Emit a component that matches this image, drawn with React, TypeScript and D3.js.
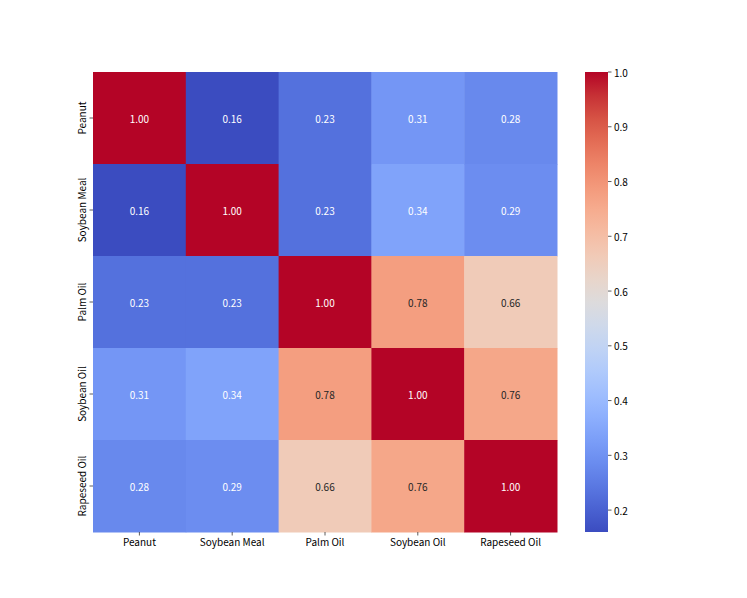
import React, { useEffect, useRef } from "react";
import * as d3 from "d3";

const LABELS = ["Peanut", "Soybean Meal", "Palm Oil", "Soybean Oil", "Rapeseed Oil"];
const MATRIX = [
  [1.0, 0.16, 0.23, 0.31, 0.28],
  [0.16, 1.0, 0.23, 0.34, 0.29],
  [0.23, 0.23, 1.0, 0.78, 0.66],
  [0.31, 0.34, 0.78, 1.0, 0.76],
  [0.28, 0.29, 0.66, 0.76, 1.0],
];
const CBAR_TICKS = [0.2, 0.3, 0.4, 0.5, 0.6, 0.7, 0.8, 0.9, 1.0];

// matplotlib coolwarm, sampled every 1/16
const COOLWARM = [
  "rgb(59,76,192)", "rgb(77,104,215)", "rgb(98,130,234)", "rgb(119,154,247)",
  "rgb(141,176,254)", "rgb(163,194,255)", "rgb(184,208,249)", "rgb(204,217,238)",
  "rgb(221,221,221)", "rgb(236,211,197)", "rgb(245,196,173)", "rgb(247,177,148)",
  "rgb(244,154,123)", "rgb(236,127,99)", "rgb(222,96,76)", "rgb(203,62,56)",
  "rgb(180,4,38)",
];

const W = 747;
const H = 598;
const LEFT = 93;
const RIGHT = 557;
const TOP = 72;
const BOTTOM = 532;
const CB_X = 585;
const CB_W = 23;
const FONT = "'Noto Sans CJK SC', 'DejaVu Sans', sans-serif";

function luminance(c: string) {
  const rgb = d3.rgb(c);
  const f = (v: number) => {
    v = v / 255;
    return v <= 0.03928 ? v / 12.92 : Math.pow((v + 0.055) / 1.055, 2.4);
  };
  return 0.2126 * f(rgb.r) + 0.7152 * f(rgb.g) + 0.0722 * f(rgb.b);
}

export default function App() {
  const ref = useRef<SVGSVGElement>(null);

  useEffect(() => {
    const svg = d3.select(ref.current);
    svg.selectAll("*").remove();

    const vmin = d3.min(MATRIX.flat()) as number;
    const vmax = d3.max(MATRIX.flat()) as number;
    const interp = d3.interpolateRgbBasis(COOLWARM);
    const color = (v: number) => interp((v - vmin) / (vmax - vmin));

    const x = d3.scaleBand<string>().domain(LABELS).range([LEFT, RIGHT]);
    const y = d3.scaleBand<string>().domain(LABELS).range([TOP, BOTTOM]);

    const cells = MATRIX.flatMap((row, i) =>
      row.map((v, j) => ({ r: LABELS[i], c: LABELS[j], v }))
    );

    const g = svg.append("g");
    g.selectAll("rect")
      .data(cells)
      .join("rect")
      .attr("x", (d) => x(d.c)!)
      .attr("y", (d) => y(d.r)!)
      .attr("width", x.bandwidth() + 0.5)
      .attr("height", y.bandwidth() + 0.5)
      .attr("fill", (d) => color(d.v));

    g.selectAll("text")
      .data(cells)
      .join("text")
      .attr("x", (d) => x(d.c)! + x.bandwidth() / 2)
      .attr("y", (d) => y(d.r)! + y.bandwidth() / 2)
      .attr("text-anchor", "middle")
      .attr("dominant-baseline", "central")
      .attr("font-family", FONT)
      .attr("font-size", 10)
      .attr("fill", (d) => (luminance(color(d.v)) > 0.408 ? "#262626" : "#ffffff"))
      .text((d) => d.v.toFixed(2));

    // x axis
    const xa = svg.append("g");
    LABELS.forEach((l) => {
      const cx = x(l)! + x.bandwidth() / 2;
      xa.append("line")
        .attr("x1", cx).attr("x2", cx)
        .attr("y1", BOTTOM).attr("y2", BOTTOM + 3.5)
        .attr("stroke", "#333").attr("stroke-width", 0.8);
      xa.append("text")
        .attr("x", cx).attr("y", BOTTOM + 14)
        .attr("text-anchor", "middle")
        .attr("font-family", FONT).attr("font-size", 10)
        .attr("fill", "#000")
        .text(l);
    });

    // y axis
    const ya = svg.append("g");
    LABELS.forEach((l) => {
      const cy = y(l)! + y.bandwidth() / 2;
      ya.append("line")
        .attr("x1", LEFT - 3.5).attr("x2", LEFT)
        .attr("y1", cy).attr("y2", cy)
        .attr("stroke", "#333").attr("stroke-width", 0.8);
      ya.append("text")
        .attr("transform", `translate(${LEFT - 7},${cy}) rotate(-90)`)
        .attr("text-anchor", "middle")
        .attr("font-family", FONT).attr("font-size", 10)
        .attr("fill", "#000")
        .text(l);
    });

    // colorbar
    const cy = d3.scaleLinear().domain([vmin, vmax]).range([BOTTOM, TOP]);
    const defs = svg.append("defs");
    const grad = defs.append("linearGradient")
      .attr("id", "cbgrad")
      .attr("x1", 0).attr("x2", 0).attr("y1", 1).attr("y2", 0);
    d3.range(0, 1.0001, 0.05).forEach((t) => {
      grad.append("stop")
        .attr("offset", t)
        .attr("stop-color", interp(t));
    });
    svg.append("rect")
      .attr("x", CB_X).attr("y", TOP)
      .attr("width", CB_W).attr("height", BOTTOM - TOP)
      .attr("fill", "url(#cbgrad)");

    const cb = svg.append("g");
    CBAR_TICKS.forEach((t) => {
      cb.append("line")
        .attr("x1", CB_X + CB_W).attr("x2", CB_X + CB_W + 3.5)
        .attr("y1", cy(t)).attr("y2", cy(t))
        .attr("stroke", "#333").attr("stroke-width", 0.8);
      cb.append("text")
        .attr("x", CB_X + CB_W + 6).attr("y", cy(t))
        .attr("dominant-baseline", "central")
        .attr("font-family", FONT).attr("font-size", 10)
        .attr("fill", "#000")
        .text(t.toFixed(1));
    });
  }, []);

  return (
    <svg
      ref={ref}
      width={W}
      height={H}
      style={{ position: "absolute", left: 0, top: 0, background: "#fff" }}
    />
  );
}
